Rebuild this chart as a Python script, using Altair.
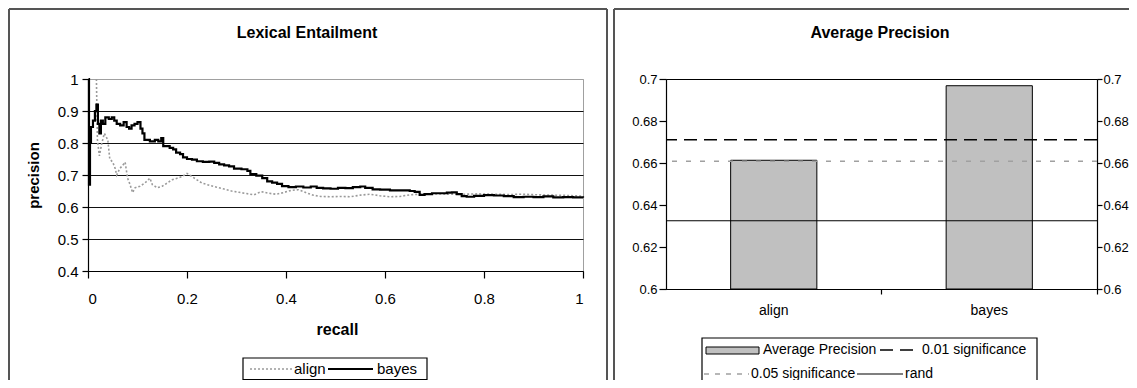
import altair as alt
import pandas as pd

# ---------------- data ----------------
bayes_recall = [0.001, 0.002, 0.004, 0.006, 0.010, 0.014, 0.017, 0.020, 0.023, 0.026,
                0.030, 0.035, 0.042, 0.048, 0.053, 0.058, 0.065, 0.072, 0.078, 0.083,
                0.088, 0.094, 0.100, 0.106, 0.110, 0.114, 0.125, 0.135, 0.142, 0.148,
                0.152, 0.165, 0.172, 0.178, 0.186, 0.192, 0.200, 0.210, 0.220, 0.232,
                0.245, 0.255, 0.265, 0.275, 0.285, 0.295, 0.310, 0.322, 0.328, 0.340,
                0.352, 0.362, 0.372, 0.382, 0.392, 0.405, 0.420, 0.435, 0.450, 0.462,
                0.475, 0.490, 0.505, 0.520, 0.535, 0.550, 0.560, 0.575, 0.590, 0.610,
                0.630, 0.650, 0.660, 0.670, 0.680, 0.695, 0.710, 0.725, 0.735, 0.745,
                0.755, 0.765, 0.780, 0.800, 0.820, 0.840, 0.860, 0.880, 0.900, 0.920,
                0.940, 0.960, 0.980, 1.000]
bayes_precision = [1.000, 0.670, 0.800, 0.850, 0.870, 0.900, 0.920, 0.860, 0.830, 0.870,
                   0.860, 0.880, 0.875, 0.880, 0.870, 0.860, 0.855, 0.865, 0.850, 0.845,
                   0.855, 0.860, 0.865, 0.845, 0.830, 0.810, 0.805, 0.810, 0.805, 0.815,
                   0.790, 0.785, 0.780, 0.770, 0.765, 0.755, 0.750, 0.748, 0.743, 0.741,
                   0.742, 0.738, 0.733, 0.730, 0.727, 0.720, 0.718, 0.713, 0.703, 0.698,
                   0.690, 0.680, 0.676, 0.672, 0.665, 0.662, 0.664, 0.661, 0.664, 0.660,
                   0.658, 0.657, 0.660, 0.659, 0.662, 0.664, 0.660, 0.655, 0.654, 0.652,
                   0.652, 0.650, 0.647, 0.638, 0.640, 0.643, 0.643, 0.645, 0.646, 0.640,
                   0.634, 0.632, 0.635, 0.637, 0.636, 0.634, 0.631, 0.632, 0.631, 0.633,
                   0.630, 0.631, 0.630, 0.629]

align_recall = [0.017, 0.019, 0.023, 0.028, 0.033, 0.040, 0.044, 0.050, 0.055, 0.058,
                0.064, 0.070, 0.075, 0.080, 0.085, 0.090, 0.095, 0.105, 0.115, 0.125,
                0.130, 0.140, 0.150, 0.160, 0.170, 0.180, 0.190, 0.200, 0.210, 0.220,
                0.230, 0.245, 0.260, 0.275, 0.290, 0.305, 0.320, 0.335, 0.350, 0.365,
                0.380, 0.395, 0.410, 0.425, 0.440, 0.455, 0.470, 0.490, 0.510, 0.530,
                0.550, 0.570, 0.590, 0.610, 0.630, 0.650, 0.670, 0.700, 0.730, 0.760,
                0.790, 0.820, 0.850, 0.880, 0.910, 0.940, 0.970, 1.000]
align_precision = [1.000, 0.810, 0.760, 0.800, 0.830, 0.810, 0.750, 0.740, 0.720, 0.700,
                   0.720, 0.730, 0.740, 0.690, 0.670, 0.645, 0.660, 0.665, 0.675, 0.690,
                   0.670, 0.660, 0.665, 0.675, 0.685, 0.690, 0.695, 0.705, 0.695, 0.685,
                   0.675, 0.668, 0.662, 0.656, 0.650, 0.646, 0.642, 0.638, 0.648, 0.643,
                   0.640, 0.645, 0.652, 0.654, 0.645, 0.637, 0.633, 0.632, 0.633, 0.632,
                   0.637, 0.640, 0.635, 0.632, 0.633, 0.638, 0.640, 0.641, 0.640, 0.640,
                   0.641, 0.640, 0.639, 0.640, 0.638, 0.637, 0.636, 0.634]

series_names = ["align", "bayes"]
x_ticks = [0, 0.2, 0.4, 0.6, 0.8, 1.0]
y_ticks_left = [0.4, 0.5, 0.6, 0.7, 0.8, 0.9, 1.0]

categories = ["align", "bayes"]
avg_precision = [0.6613, 0.6968]
bar_series = "Average Precision"
ref_names = ["0.01 significance", "0.05 significance", "rand"]
ref_values = [0.6711, 0.6608, 0.6325]
y_ticks_right = [0.6, 0.62, 0.64, 0.66, 0.68, 0.7]

left_title = "Lexical Entailment"
right_title = "Average Precision"
x_title = "recall"
y_title = "precision"

# ---------------- styling ----------------
FONT = "Liberation Sans"
W1, H1 = 495, 192
W2, H2 = 431, 210
FRAME = "#555555"
ALIGN_COLOR = "#9a9a9a"
dummy = pd.DataFrame({"k": [0]})


def rule(x, x2, y, y2, color=FRAME, width=2, dash=None):
    kw = dict(color=color, strokeWidth=width)
    if dash is not None:
        kw["strokeDash"] = dash
    return alt.Chart(dummy).mark_rule(**kw).encode(
        x=alt.value(x), x2=alt.value(x2), y=alt.value(y), y2=alt.value(y2))


def text(x, y, s, size=14, bold=False, align="left"):
    return alt.Chart(dummy).mark_text(
        font=FONT, fontSize=size, fontWeight="bold" if bold else "normal",
        align=align, baseline="middle", color="black").encode(
        x=alt.value(x), y=alt.value(y), text=alt.value(s))


def box(x, x2, y, y2, fill="white", width=1.2):
    return alt.Chart(dummy).mark_rect(fill=fill, stroke="black", strokeWidth=width).encode(
        x=alt.value(x), x2=alt.value(x2), y=alt.value(y), y2=alt.value(y2))


# ---------------- left panel ----------------
curves = pd.concat([
    pd.DataFrame({"recall": align_recall, "precision": align_precision, "series": "align"}),
    pd.DataFrame({"recall": bayes_recall, "precision": bayes_precision, "series": "bayes"}),
], ignore_index=True)

x_enc = alt.X("recall:Q", scale=alt.Scale(domain=[0, 1], nice=False),
              axis=alt.Axis(values=x_ticks, format=".1~f", title=x_title,
                            titleFontSize=16, titleFontWeight="bold",
                            titleX=249, titleY=58, titleBaseline="middle",
                            labelFontSize=15, labelPadding=13, tickSize=7,
                            grid=False))
y_enc = alt.Y("precision:Q", scale=alt.Scale(domain=[0.4, 1], nice=False, zero=False),
              axis=alt.Axis(values=y_ticks_left, format=".1~f", title=y_title,
                            titleFontSize=15, titleFontWeight="bold",
                            titleX=-55, titleY=96, titleAngle=270,
                            titleBaseline="middle", titleAlign="center",
                            labelFontSize=15, labelPadding=4, tickSize=6,
                            grid=True, gridWidth=1.2,
                            gridColor={"condition": {"test": "datum.value >= 0.99",
                                                     "value": "#a0a0a0"},
                                       "value": "#111111"}))
enc = dict(
    x=x_enc, y=y_enc,
    color=alt.Color("series:N", scale=alt.Scale(domain=series_names, range=[ALIGN_COLOR, "#000000"]), legend=None),
    strokeDash=alt.StrokeDash("series:N", scale=alt.Scale(domain=series_names, range=[[2, 2], [1, 0]]), legend=None),
    strokeWidth=alt.StrokeWidth("series:N", scale=alt.Scale(domain=series_names, range=[1.6, 2.2]), legend=None),
)
base = alt.Chart(curves)
align_line = base.transform_filter("datum.series == 'align'").mark_line(interpolate="linear").encode(**enc)
bayes_line = base.transform_filter("datum.series == 'bayes'").mark_line(interpolate="step-after").encode(**enc)

left_legend = [
    box(155, 339, 279, 300.5),
    rule(162, 204, 290, 290, color=ALIGN_COLOR, width=1.6, dash=[2, 2]),
    text(206, 290, series_names[0], size=15),
    rule(240, 285, 290, 290, color="black", width=2.2),
    text(289, 290, series_names[1], size=15),
]

left = alt.layer(
    align_line, bayes_line,
    rule(-79, -79, -70, 320), rule(-79, 519, -70, -70), rule(519, 519, -70, 320),
    text(219, -46, left_title, size=16, bold=True, align="center"),
    *left_legend,
).properties(width=W1, height=H1, view=alt.ViewBackground(stroke="#a0a0a0", strokeWidth=1))

# ---------------- right panel ----------------
bars_df = pd.DataFrame({"category": categories, "value": avg_precision})
bars = alt.Chart(bars_df).mark_bar(color="#c0c0c0", stroke="black", strokeWidth=1).encode(
    x=alt.X("category:N", sort=categories,
            scale=alt.Scale(paddingInner=0.6, paddingOuter=0.3),
            axis=alt.Axis(title=None, labelAngle=0, labelFontSize=14, labelPadding=9,
                          tickSize=5, bandPosition=1.75)),
    y=alt.Y("value:Q", scale=alt.Scale(domain=[0.6, 0.7], nice=False, zero=False),
            axis=alt.Axis(orient="left", values=y_ticks_right, format=".2~f", title=None,
                          grid=False, tickSize=7, labelPadding=2, labelFontSize=13)),
    y2=alt.datum(0.6),
)

ref_styles = [dict(color="black", strokeWidth=1.5, strokeDash=[13, 7]),
              dict(color="#a0a0a0", strokeWidth=1.5, strokeDash=[5, 9]),
              dict(color="black", strokeWidth=1.2)]
ref_layers = []
for i, (name, val) in enumerate(zip(ref_names, ref_values)):
    axis = (alt.Axis(orient="right", values=y_ticks_right, format=".2~f", title=None,
                     grid=False, tickSize=5, labelPadding=1, labelFontSize=13)
            if i == 0 else None)
    ref_layers.append(
        alt.Chart(pd.DataFrame({"name": [name], "value": [val]})).mark_rule(**ref_styles[i]).encode(
            y=alt.Y("value:Q", scale=alt.Scale(domain=[0.6, 0.7], nice=False, zero=False), axis=axis)))

# legend (decoration)
right_legend = [
    box(36, 371, 259, 330),
    box(40, 93, 268, 275, fill="#c0c0c0", width=1),
    text(97, 271, bar_series),
    rule(214, 251, 271, 271, color="black", width=1.5, dash=[13, 7]),
    text(256, 271, ref_names[0]),
    rule(38, 83, 295, 295, color="#a0a0a0", width=1.5, dash=[5, 6]),
    text(85, 295, ref_names[1]),
    rule(191, 237, 295, 295, color="black", width=1.2),
    text(239, 295, ref_names[2]),
]

right = alt.layer(
    bars, *ref_layers,
    rule(-52, -52, -70, 320), rule(-52, 480, -70, -70),
    text(214, -46, right_title, size=16, bold=True, align="center"),
    *right_legend,
).resolve_scale(y="independent").properties(
    width=W2, height=H2, view=alt.ViewBackground(stroke="black", strokeWidth=1))

chart = alt.hconcat(left, right, spacing=83, bounds="flush").properties(
    padding={"left": 80, "top": 71, "right": 1041, "bottom": 301},
    autosize=alt.AutoSizeParams(type="none"),
    background="white",
).configure_axis(
    labelFont=FONT, titleFont=FONT, labelColor="black", titleColor="black",
    domainColor="black", tickColor="black", domainWidth=1.2, tickWidth=1.2,
)

chart.save("out.html", embed_options={"renderer": "svg", "actions": False})
